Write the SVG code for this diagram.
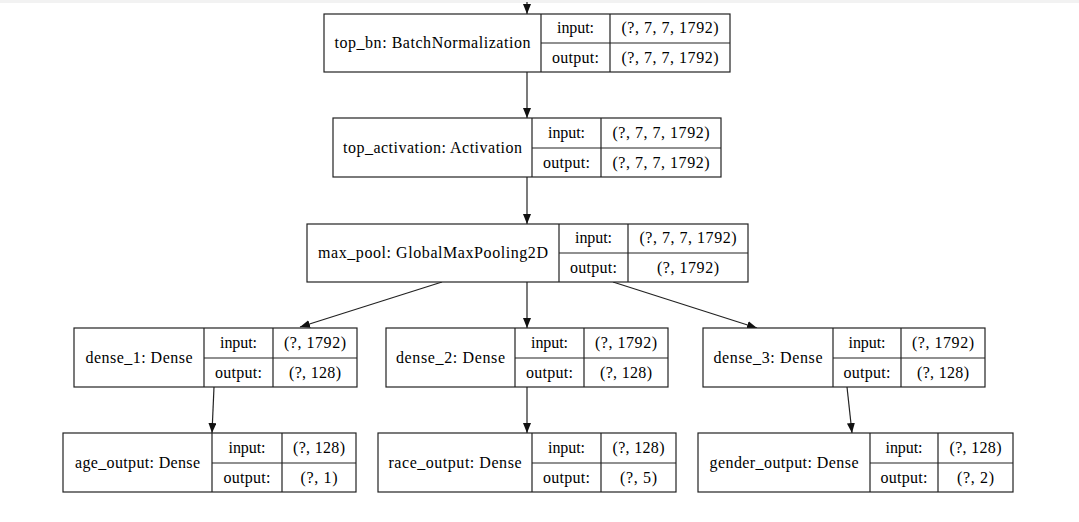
<svg xmlns="http://www.w3.org/2000/svg" width="1079" height="522" viewBox="0 0 1079 522" font-family="'Liberation Serif', 'DejaVu Serif', 'Times New Roman', serif">
<style>
.bx{fill:#fff;stroke:#222;stroke-width:1.2}
.ln{stroke:#222;stroke-width:1.2;fill:none}
text{font-family:'Liberation Serif','DejaVu Serif','Times New Roman',serif;font-size:16px;fill:#000;text-anchor:middle}
.e{stroke:#222;stroke-width:1.2;fill:none;marker-end:url(#ah)}
</style>
<defs>
<marker id="ah" markerUnits="userSpaceOnUse" markerWidth="11" markerHeight="9" refX="10" refY="4" orient="auto">
<path d="M0,0 L10,4 L0,8 Z" fill="#111"/>
</marker>
</defs>
<rect x="0" y="0" width="1079" height="3" fill="#f2f2f2"/>
<g id="connectors">
<path class="e" d="M527,2 L527,14"/>
<path class="e" d="M527,72 L527,118"/>
<path class="e" d="M527,177 L527,224"/>
<path class="e" d="M442,282 L300,327"/>
<path class="e" d="M527,282 L527,328"/>
<path class="e" d="M613,282 L757,328"/>
<path class="e" d="M214,387 L212,433"/>
<path class="e" d="M527,387 L527,433"/>
<path class="e" d="M847,387 L852,433"/>
</g>
<g id="top_bn">
<rect class="bx" x="324" y="14" width="406" height="58"/>
<path class="ln" d="M541,14 V72 M610,14 V72 M541,43 H730"/>
<text x="432.5" y="48" textLength="196" lengthAdjust="spacing">top_bn: BatchNormalization</text>
<text x="575.5" y="33" textLength="37">input:</text>
<text x="575.5" y="63" textLength="47">output:</text>
<text x="670" y="33" textLength="97">(?, 7, 7, 1792)</text>
<text x="670" y="63" textLength="97">(?, 7, 7, 1792)</text>
</g>
<g id="top_activation">
<rect class="bx" x="333" y="118" width="388" height="59"/>
<path class="ln" d="M532,118 V177 M601,118 V177 M532,148 H721"/>
<text x="432.5" y="153" textLength="179" lengthAdjust="spacing">top_activation: Activation</text>
<text x="566.5" y="138" textLength="37">input:</text>
<text x="566.5" y="168" textLength="47">output:</text>
<text x="661" y="138" textLength="97">(?, 7, 7, 1792)</text>
<text x="661" y="168" textLength="97">(?, 7, 7, 1792)</text>
</g>
<g id="max_pool">
<rect class="bx" x="307" y="224" width="441" height="58"/>
<path class="ln" d="M559,224 V282 M628,224 V282 M559,253 H748"/>
<text x="433" y="258" textLength="230" lengthAdjust="spacing">max_pool: GlobalMaxPooling2D</text>
<text x="593.5" y="243" textLength="37">input:</text>
<text x="593.5" y="273" textLength="47">output:</text>
<text x="688" y="243" textLength="97">(?, 7, 7, 1792)</text>
<text x="688" y="273" textLength="62">(?, 1792)</text>
</g>
<g id="dense_1">
<rect class="bx" x="74" y="328" width="283" height="59"/>
<path class="ln" d="M204,328 V387 M273,328 V387 M204,358 H357"/>
<text x="139" y="363" textLength="107">dense_1: Dense</text>
<text x="238.5" y="348" textLength="37">input:</text>
<text x="238.5" y="378" textLength="47">output:</text>
<text x="315" y="348" textLength="62">(?, 1792)</text>
<text x="315" y="378" textLength="52">(?, 128)</text>
</g>
<g id="dense_2">
<rect class="bx" x="386" y="328" width="282" height="59"/>
<path class="ln" d="M515,328 V387 M584,328 V387 M515,358 H668"/>
<text x="450.5" y="363" textLength="109">dense_2: Dense</text>
<text x="549.5" y="348" textLength="37">input:</text>
<text x="549.5" y="378" textLength="47">output:</text>
<text x="626" y="348" textLength="62">(?, 1792)</text>
<text x="626" y="378" textLength="52">(?, 128)</text>
</g>
<g id="dense_3">
<rect class="bx" x="703" y="328" width="282" height="59"/>
<path class="ln" d="M833,328 V387 M901,328 V387 M833,358 H985"/>
<text x="768" y="363" textLength="109">dense_3: Dense</text>
<text x="867" y="348" textLength="37">input:</text>
<text x="867" y="378" textLength="47">output:</text>
<text x="943" y="348" textLength="62">(?, 1792)</text>
<text x="943" y="378" textLength="52">(?, 128)</text>
</g>
<g id="age_output">
<rect class="bx" x="63" y="433" width="293" height="59"/>
<path class="ln" d="M212,433 V492 M282,433 V492 M212,463 H356"/>
<text x="137.5" y="468" textLength="125">age_output: Dense</text>
<text x="247" y="453" textLength="37">input:</text>
<text x="247" y="483" textLength="47">output:</text>
<text x="319" y="453" textLength="52">(?, 128)</text>
<text x="319" y="483" textLength="37">(?, 1)</text>
</g>
<g id="race_output">
<rect class="bx" x="378" y="433" width="298" height="59"/>
<path class="ln" d="M532,433 V492 M601,433 V492 M532,463 H676"/>
<text x="455" y="468" textLength="133">race_output: Dense</text>
<text x="566.5" y="453" textLength="37">input:</text>
<text x="566.5" y="483" textLength="47">output:</text>
<text x="638.5" y="453" textLength="52">(?, 128)</text>
<text x="638.5" y="483" textLength="37">(?, 5)</text>
</g>
<g id="gender_output">
<rect class="bx" x="698" y="433" width="315" height="59"/>
<path class="ln" d="M870,433 V492 M938,433 V492 M870,463 H1013"/>
<text x="784" y="468" textLength="149">gender_output: Dense</text>
<text x="904" y="453" textLength="37">input:</text>
<text x="904" y="483" textLength="47">output:</text>
<text x="975.5" y="453" textLength="52">(?, 128)</text>
<text x="975.5" y="483" textLength="37">(?, 2)</text>
</g>
</svg>
